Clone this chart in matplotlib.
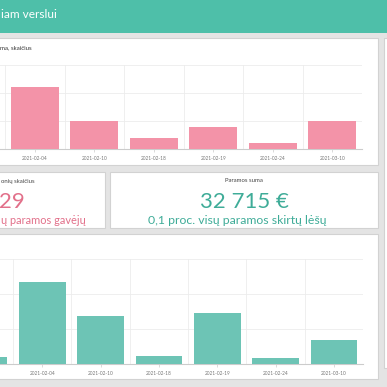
import matplotlib.pyplot as plt
import numpy as np
from matplotlib.patches import Rectangle

dates = ["", "2021-02-04", "2021-02-10", "2021-02-18", "2021-02-19", "2021-02-24", "2021-03-10"]
counts = [1, 11, 5, 2, 4, 1, 5]
amounts = [1000, 11800, 6950, 1250, 7400, 900, 3415]
count_ticks = [0, 5, 10, 15]
amount_ticks = [0, 5000, 10000, 15000]

header_txt = "iam verslui"
top_title = "ma, skaičius"
left_label = "onių skaičius"
left_value = "29"
left_note = "ų paramos gavėjų"
right_label = "Paramos suma"
right_value = "32 715 €"
right_note = "0,1 proc. visų paramos skirtų lėšų"

W = H = 387
TEAL = "#4ebfa9"
PINK_BAR = "#f393a8"
TEAL_BAR = "#6dc4b5"
BG = "#e4e4e4"
EDGE = "#d2d2d2"

plt.rcParams['font.family'] = ['Lato', 'DejaVu Sans']

fig = plt.figure(figsize=(W / 100, H / 100), dpi=100)
fig.patch.set_facecolor(BG)

# background layer in pixel coordinates
bg = fig.add_axes([0, 0, 1, 1])
bg.set_xlim(0, W)
bg.set_ylim(H, 0)
bg.axis("off")


def box(x0, y0, x1, y1, fc="white", ec=EDGE):
    bg.add_patch(Rectangle((x0, y0), x1 - x0, y1 - y0, facecolor=fc, edgecolor=ec, linewidth=0.8))


box(-5, -5, W + 5, 33, fc=TEAL, ec="none")
box(-5, 38, 378, 165)
box(384, 38, W + 5, 368)
box(-5, 172, 105, 228)
box(110, 172, 378, 228)
box(-5, 234, 378, 379)

bg.text(57, 15, header_txt, color="white", fontsize=8.6, ha="right", va="center")
bg.text(32, 47.5, top_title, color="#333333", fontsize=4.4, ha="right", va="center")

bg.text(35, 181, left_label, color="#444444", fontsize=4.3, ha="right", va="center")
bg.text(25, 202, left_value, color="#e2708a", fontsize=16, ha="right", va="center")
bg.text(86, 220, left_note, color="#e2708a", fontsize=7.9, ha="right", va="center")

bg.text(244, 181, right_label, color="#444444", fontsize=4.3, ha="center", va="center")
bg.text(244, 202, right_value, color="#3fac98", fontsize=16, ha="center", va="center")
bg.text(237, 220, right_note, color="#3fac98", fontsize=8.8, ha="center", va="center")


def bar_axes(left, right, top, bottom, values, ticks, color):
    ax = fig.add_axes([left / W, 1 - bottom / H, (right - left) / W, (bottom - top) / H])
    ax.set_facecolor("none")
    x = np.arange(len(dates))
    ax.bar(x, values, width=0.8, color=color, zorder=3)
    ax.set_xlim(-0.5, len(dates) - 0.5)
    ax.set_ylim(ticks[0], ticks[-1])
    ax.set_xticks(x)
    ax.set_xticklabels(dates, fontsize=3.4, color="#777777")
    ax.set_xticks(np.arange(-0.5, len(dates)), minor=True)
    ax.set_yticks(ticks)
    ax.set_yticklabels([])
    ax.tick_params(axis="x", which="major", length=2.5, width=0.5, color="#cccccc", pad=2.5)
    ax.tick_params(axis="x", which="minor", length=0)
    ax.tick_params(axis="y", length=0)
    ax.grid(axis="x", which="minor", color="#ececec", linewidth=0.6)
    ax.grid(axis="y", which="major", color="#ececec", linewidth=0.6)
    for s in ["top", "right", "left"]:
        ax.spines[s].set_visible(False)
    ax.spines["bottom"].set_color("#cccccc")
    ax.spines["bottom"].set_linewidth(0.8)
    ax.set_axisbelow(True)
    return ax


bar_axes(-54.5, 362, 65, 149, counts, count_ticks, PINK_BAR)
bar_axes(-45.3, 363, 259.3, 364.3, amounts, amount_ticks, TEAL_BAR)

fig.savefig("out.png", dpi=100, facecolor=fig.get_facecolor())
